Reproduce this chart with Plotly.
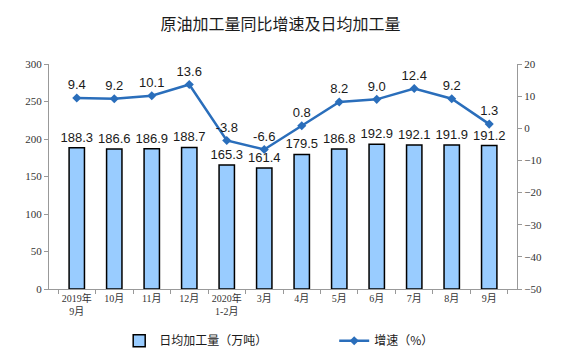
import plotly.graph_objects as go

categories = ["2019年<br>9月", "10月", "11月", "12月", "2020年<br>1-2月", "3月", "4月", "5月", "6月", "7月", "8月", "9月"]
daily_output = [188.3, 186.6, 186.9, 188.7, 165.3, 161.4, 179.5, 186.8, 192.9, 192.1, 191.9, 191.2]
growth = [9.4, 9.2, 10.1, 13.6, -3.8, -6.6, 0.8, 8.2, 9.0, 12.4, 9.2, 1.3]

left_ticks = [0, 50, 100, 150, 200, 250, 300]
right_ticks = [-50, -40, -30, -20, -10, 0, 10, 20]

label_font = dict(family="Liberation Sans, Arial", size=13, color="#1a1a1a")

fig = go.Figure()
fig.add_trace(go.Bar(
    x=categories, y=daily_output, name="日均加工量（万吨）",
    marker=dict(color="#99CCFF", line=dict(color="#000000", width=1.5)),
    width=0.41,
    text=[f"{v:.1f}" for v in daily_output], textposition="outside",
    constraintext="none", textangle=0,
    textfont=label_font, cliponaxis=False,
))
fig.add_trace(go.Scatter(
    x=categories, y=growth, name="增速（%）", yaxis="y2",
    mode="lines+markers+text",
    line=dict(color="#2A6EBB", width=2.5),
    marker=dict(symbol="diamond", size=7, color="#2A6EBB"),
    text=[f"{v:.1f}" for v in growth], textposition="top center",
    textfont=label_font, cliponaxis=False,
))

tick_font = dict(family="Liberation Serif, Times New Roman", size=11, color="#333333")
fig.update_layout(
    width=561, height=358,
    margin=dict(l=49, r=44, t=64, b=69, autoexpand=False),
    paper_bgcolor="white", plot_bgcolor="white",
    title=dict(text="原油加工量同比增速及日均加工量", x=0.5, xanchor="center", y=0.933, yanchor="middle",
               font=dict(family="Noto Sans CJK SC", size=16, color="#1a1a1a")),
    xaxis=dict(type="category", showline=True, linecolor="#999999", linewidth=1,
               ticks="outside", tickson="boundaries", ticklen=4, tickcolor="#999999",
               tickangle=0, automargin=False,
               tickfont=dict(family="Liberation Serif, Noto Sans CJK SC", size=10, color="#333333"),
               showgrid=False),
    yaxis=dict(range=[0, 300], tickvals=left_ticks, showline=True, linecolor="#999999", linewidth=1,
               ticks="outside", ticklen=4, tickcolor="#999999", showgrid=False, zeroline=False,
               automargin=False, tickfont=tick_font),
    yaxis2=dict(range=[-50, 20], tickvals=right_ticks, overlaying="y", side="right",
                showline=True, linecolor="#999999", linewidth=1,
                ticks="outside", ticklen=4, tickcolor="#999999", showgrid=False, zeroline=False,
                automargin=False, tickfont=tick_font),
    legend=dict(orientation="h", x=0.15, y=-0.23, xanchor="left", yanchor="middle",
                entrywidth=170, entrywidthmode="pixels",
                font=dict(family="Noto Sans CJK SC", size=12, color="#1a1a1a")),
)
fig.write_html("out.html", config={"displayModeBar": False},
               post_script="document.body.style.margin='0';")
